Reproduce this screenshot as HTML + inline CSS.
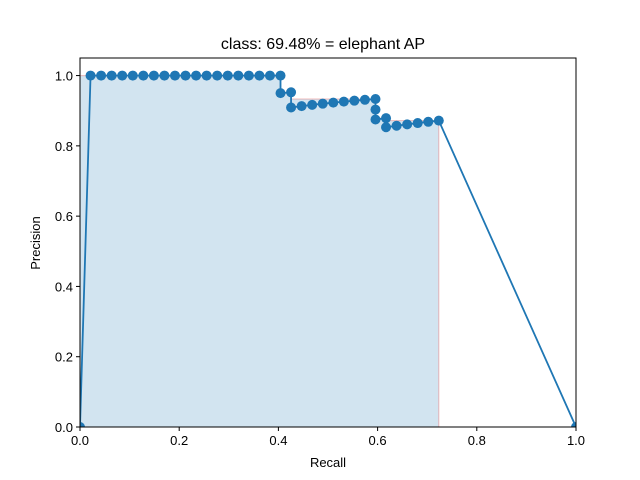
<!DOCTYPE html>
<html><head><meta charset="utf-8"><style>
body{margin:0;background:#fff;}
svg{display:block;font-family:"Liberation Sans","DejaVu Sans",sans-serif;}
</style></head><body>
<svg id="chart" width="640" height="480" viewBox="0 0 640 480">
<defs><clipPath id="clip"><rect x="80" y="58" width="496" height="369"/></clipPath></defs>
<rect width="640" height="480" fill="#fff"/>
<text x="323" y="49" font-size="16" text-anchor="middle">class: 69.48% = elephant AP</text>
<g id="plot" clip-path="url(#clip)"></g>
<g id="axes"></g>
<text x="328" y="467" font-size="13" text-anchor="middle">Recall</text>
<text x="40" y="243" font-size="13" text-anchor="middle" transform="rotate(-90 40 243)">Precision</text>
</svg>
<script>
const tp = [1,2,3,4,5,6,7,8,9,10,11,12,13,14,15,16,17,18,19,19,20,20,21,22,23,24,25,26,27,28,28,28,29,29,30,31,32,33,34];
const detections = [1,2,3,4,5,6,7,8,9,10,11,12,13,14,15,16,17,18,19,20,21,22,23,24,25,26,27,28,29,30,31,32,33,34,35,36,37,38,39];
const totalGt = 47;
const xTicks = [0,0.2,0.4,0.6,0.8,1.0];
const yTicks = [0,0.2,0.4,0.6,0.8,1.0];
const L=80,R=576,T=58,B=427;
const sx=v=>L+v*(R-L);
const sy=v=>B-v*(B-T)/1.05;
const ns="http://www.w3.org/2000/svg";
const g=document.getElementById('plot');
const ga=document.getElementById('axes');
function mk(t,a,p){const e=document.createElementNS(ns,t);for(const k in a)e.setAttribute(k,a[k]);(p||g).appendChild(e);return e;}
const rec=tp.map(v=>v/totalGt), prec=tp.map((v,i)=>v/detections[i]);
const mrec=[0,...rec,1], mpre=[0,...prec,0];
for(let i=mpre.length-2;i>=0;i--) mpre[i]=Math.max(mpre[i],mpre[i+1]);
let pts=[];
for(let i=0;i<mrec.length-1;i++){pts.push([mrec[i],mpre[i+1]]);pts.push([mrec[i+1],mpre[i+1]]);}
let d=`M${sx(0)},${sy(0)}`, edge='';
pts.forEach((p,i)=>{edge+=(i?'L':'M')+sx(p[0])+','+sy(p[1]);d+='L'+sx(p[0])+','+sy(p[1]);});
d+=`L${sx(1)},${sy(0)}Z`;
let f=mk('path',{d:d,fill:'#1f77b4','fill-opacity':0.2,stroke:'none'});


let e=mk('path',{d:edge,fill:'none',stroke:'#e37777','stroke-opacity':0.5,'stroke-width':1});


const lr=[0,...rec,1], lp=[0,...prec,0];
let ld=lr.map((r,i)=>(i?'L':'M')+sx(r)+','+sy(lp[i])).join('');
let ln=mk('path',{d:ld,fill:'none',stroke:'#1f77b4','stroke-width':1.8});


lr.forEach((r,i)=>{const c=mk('circle',{cx:sx(r),cy:sy(lp[i]),r:5,fill:'#1f77b4'});

});
const fr=mk('rect',{x:L,y:T,width:R-L,height:B-T,fill:'none',stroke:'#000','stroke-width':1},ga);


xTicks.forEach(v=>{mk('line',{x1:sx(v),x2:sx(v),y1:B,y2:B+4,stroke:'#000'},ga);
const t=mk('text',{x:sx(v),y:B+18,'font-size':13,'text-anchor':'middle'},ga);t.textContent=v.toFixed(1);

});
yTicks.forEach(v=>{mk('line',{x1:L-4,x2:L,y1:sy(v),y2:sy(v),stroke:'#000'},ga);
const t=mk('text',{x:L-7,y:sy(v)+5,'font-size':13,'text-anchor':'end'},ga);t.textContent=v.toFixed(1);

});
</script>
</body></html>
